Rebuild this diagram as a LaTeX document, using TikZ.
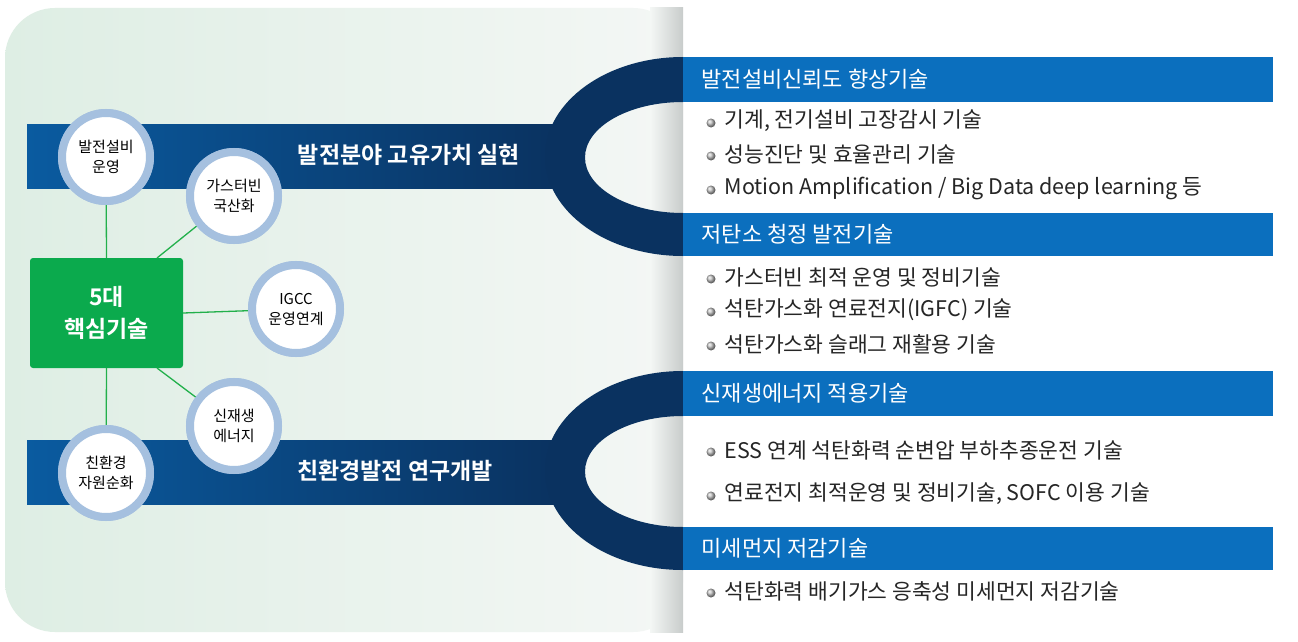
\documentclass[tikz,border=0pt]{standalone}
\usepackage{fontspec}
\setmainfont{Noto Sans CJK KR}
\newfontfamily\kbold{Noto Sans CJK KR Bold}
\begin{document}
\begin{tikzpicture}[x=1pt,y=-1pt,
  bub/.style={circle,fill=white,draw=ringblue,line width=8pt,minimum size=88pt,inner sep=0pt,align=center,font=\fontsize{15}{20}\selectfont},
  lnk/.style={draw=lgreen,line width=1.3pt},
  htxt/.style={anchor=west,text=white,font=\fontsize{22}{25}\selectfont},
  btxt/.style={anchor=west,text=black!85,font=\fontsize{21.5}{25}\selectfont},
  bul/.style={circle,inner sep=0pt,minimum size=9pt,shading=ball,ball color=black!25}]
\definecolor{ringblue}{HTML}{A5C0DF}
\definecolor{lgreen}{HTML}{22B04B}
\definecolor{gbox}{HTML}{0BAA4D}
\definecolor{hblue}{HTML}{0B6FBE}
\definecolor{navy}{HTML}{0A3260}
\definecolor{barl}{HTML}{0A5BA0}
\useasboundingbox (0,0) rectangle (1298,642);
\fill[white] (0,0) rectangle (1298,642);
\shade[left color={rgb,255:red,222;green,238;blue,228},right color={rgb,255:red,244;green,247;blue,245},rounded corners=50pt] (5,8) rectangle (683,632);
\shade[left color={rgb,255:red,244;green,247;blue,245},right color={rgb,255:red,200;green,204;blue,203}] (650,8) rectangle (683,632);
% bars
\shade[left color=barl,right color=navy] (27,124) rectangle (560,188);
\shade[left color=barl,right color=navy] (27,440) rectangle (560,504);
\begin{scope}
\clip (500,0) rectangle (683,642);
\fill[navy,even odd rule] (683,156.5) ellipse [x radius=138,y radius=99.5] (683,157.5) ellipse [x radius=98,y radius=55.5];
\fill[navy,even odd rule] (683,470.5) ellipse [x radius=138,y radius=99.5] (683,471.5) ellipse [x radius=98,y radius=55.5];
\end{scope}
\node[text=white,font=\kbold\fontsize{23}{26}\selectfont] (t1) at (409,155) {발전분야 고유가치 실현};
\node[text=white,font=\kbold\fontsize{23}{26}\selectfont] (t2) at (395,471) {친환경발전 연구개발};
% green box and bubbles
\node[fill=gbox,rounded corners=3pt,minimum width=153pt,minimum height=110pt,align=center,text=white,font=\kbold\fontsize{23}{32}\selectfont] (core) at (106.5,313) {5대\\핵심기술};
\node[bub] (b1) at (106,157) {};
\node[bub] (b2) at (234,196) {};
\node[bub] (b3) at (296,309) {};
\node[bub] (b4) at (234,426) {};
\node[bub] (b5) at (106,473) {};
\draw[lnk] (core.north) -- (b1);
\draw[lnk] (core.east) -- (b3);
\draw[lnk] (core.south) -- (b5);
\draw[lnk] (157,258) -- (b2);
\draw[lnk] (157,368) -- (b4);
\node[bub] (c1) at (106,157) {발전설비\\운영};
\node[bub] (c2) at (234,196) {가스터빈\\국산화};
\node[bub] (c3) at (296,309) {IGCC\\운영연계};
\node[bub] (c4) at (234,426) {신재생\\에너지};
\node[bub] (c5) at (106,473) {친환경\\자원순화};
% headers
\fill[hblue] (683,57) rectangle (1273,102);
\fill[hblue] (683,213) rectangle (1273,256);
\fill[hblue] (683,371) rectangle (1273,416);
\fill[hblue] (683,527) rectangle (1273,570);
\node[htxt] (h1) at (698,79) {발전설비신뢰도 향상기술};
\node[htxt] (h2) at (698,234) {저탄소 청정 발전기술};
\node[htxt] (h3) at (698,393) {신재생에너지 적용기술};
\node[htxt] (h4) at (698,548) {미세먼지 저감기술};
\foreach \yy/\tx in {121/{기계, 전기설비 고장감시 기술},154/{성능진단 및 효율관리 기술},188/{Motion Amplification / Big Data deep learning 등},277/{가스터빈 최적 운영 및 정비기술},310/{석탄가스화 연료전지(IGFC) 기술},344/{석탄가스화 슬래그 재활용 기술},450/{ESS 연계 석탄화력 순변압 부하추종운전 기술},494/{연료전지 최적운영 및 정비기술, SOFC 이용 기술},591/{석탄화력 배기가스 응축성 미세먼지 저감기술}}{
  \node[bul] at (711,\yy+2) {};
  \node[btxt] at (721,\yy) {\tx};
}
\end{tikzpicture}
\end{document}
